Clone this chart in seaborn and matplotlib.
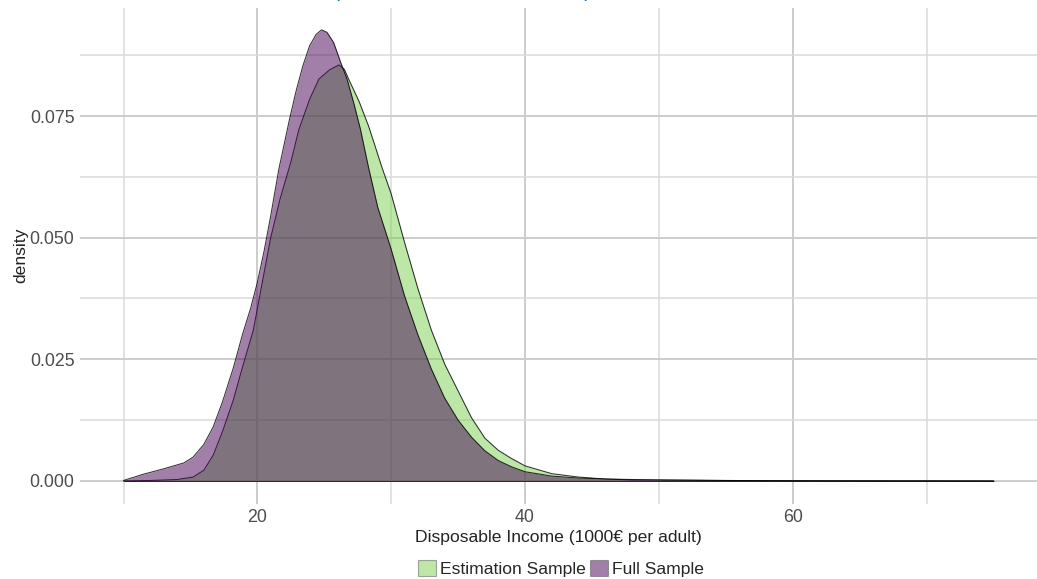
import numpy as np
import pandas as pd
import matplotlib.pyplot as plt
import seaborn as sns
from matplotlib.patches import Patch
from matplotlib.ticker import MultipleLocator

# Density curves (x in 1000 EUR per adult)
full_x = [10, 11.5, 13, 14.5, 15.2, 16, 16.7, 17.4, 18.2, 18.9, 19.5, 20, 20.5,
          21, 21.6, 22.4, 22.9, 23.4, 23.9, 24.4, 24.8, 25.2, 25.7, 26.2, 26.7,
          27.2, 27.7, 28.3, 29, 30, 31, 32, 33, 34, 35, 36, 37, 38, 39, 40, 42,
          44, 46, 48, 50, 55, 60, 65, 70, 75]
full_y = [0.0001, 0.0014, 0.0025, 0.0037, 0.0049, 0.0075, 0.0111, 0.0163, 0.0232,
          0.0302, 0.0355, 0.0408, 0.0472, 0.0545, 0.0640, 0.0743, 0.0802, 0.0853,
          0.0894, 0.0918, 0.0927, 0.0922, 0.0901, 0.0862, 0.0826, 0.0777, 0.0723,
          0.0645, 0.0562, 0.0476, 0.0380, 0.0300, 0.0230, 0.0170, 0.0125, 0.0090,
          0.0062, 0.0042, 0.0029, 0.0019, 0.0010, 0.0006, 0.0004, 0.0003, 0.0002,
          0.0001, 0.00005, 0.00003, 0.00002, 0.0]

est_x = [10, 12, 14, 15.2, 16, 16.7, 17.4, 18.2, 18.9, 19.7, 20.45, 21, 21.7, 22.5,
         23.1, 23.9, 24.6, 25.4, 26.1, 26.5, 26.85, 27.6, 28.3, 28.8, 29.3, 30, 31,
         32, 33, 34, 35, 36, 37, 38, 39, 40, 42, 44, 46, 48, 50, 55, 60, 65, 70, 75]
est_y = [0.0, 0.0001, 0.0003, 0.0008, 0.0022, 0.0053, 0.0102, 0.0166, 0.0235,
         0.0310, 0.0420, 0.0500, 0.0580, 0.0655, 0.0722, 0.0784, 0.0826, 0.0845,
         0.0855, 0.0846, 0.0824, 0.0780, 0.0730, 0.0688, 0.0645, 0.0590, 0.0490,
         0.0395, 0.0310, 0.0240, 0.0185, 0.0130, 0.0088, 0.0063, 0.0046, 0.0031,
         0.0015, 0.0008, 0.0004, 0.0002, 0.0002, 0.0001, 0.00005, 0.00003, 0.00002,
         0.0]

labels = ["Estimation Sample", "Full Sample"]
colors = {"Estimation Sample": "#7AD151", "Full Sample": "#440154"}

df = pd.concat([
    pd.DataFrame({"income": est_x, "density": est_y, "sample": labels[0]}),
    pd.DataFrame({"income": full_x, "density": full_y, "sample": labels[1]}),
])

sns.set_theme(style="whitegrid")
plt.rcParams['font.family'] = ['Liberation Sans', 'DejaVu Sans']

fig = plt.figure(figsize=(10.37, 5.79), dpi=100)
ax = fig.add_axes([80 / 1037, 75.5 / 579, 957 / 1037, 496 / 579])

# estimation sample first, full sample on top (fill then outline each)
z = 1
for name in labels:
    d = df[df["sample"] == name]
    ax.fill_between(d["income"], d["density"], color=colors[name], alpha=0.5,
                    lw=0, zorder=z)
    sns.lineplot(data=d, x="income", y="density", color="black", lw=0.75,
                 alpha=0.8, ax=ax, zorder=z + 1, legend=False)
    ax.hlines(0, d["income"].min(), d["income"].max(), color="black", lw=0.7,
              alpha=0.5, zorder=z + 1)
    z += 2

ax.set_xlim(6.75, 78.25)
ax.set_ylim(-0.00463, 0.0973)
ax.xaxis.set_major_locator(MultipleLocator(20))
ax.xaxis.set_minor_locator(MultipleLocator(10))
ax.yaxis.set_major_locator(MultipleLocator(0.025))
ax.yaxis.set_minor_locator(MultipleLocator(0.0125))
ax.yaxis.set_major_formatter(plt.FormatStrFormatter('%.3f'))

ax.grid(which="major", color="#cccccc", lw=1.4)
ax.grid(which="minor", color="#dadada", lw=1.1)
ax.set_axisbelow(True)
for s in ax.spines.values():
    s.set_visible(False)
ax.tick_params(which="both", length=0, labelsize=12.8, colors="#4d4d4d", pad=4)

ax.set_xlabel("Disposable Income (1000€ per adult)", fontsize=12.6, color="#222222",
              labelpad=3)
ax.set_ylabel("density", fontsize=12.6, color="#222222", labelpad=1)

handles = [Patch(facecolor=colors[n], alpha=0.5, edgecolor="#555555", lw=0.8)
           for n in labels]
fig.legend(handles, labels, loc="lower center", bbox_to_anchor=(0.541, -0.024),
           ncol=2, frameon=False, fontsize=12.6, handlelength=1.0, handleheight=1.0,
           handletextpad=0.25, columnspacing=0.25)

# title sits above the visible area; only descenders peek in
fig.text(317 / 1037, 1.003, "Disposable Income: Estimation vs. Full Sample",
         color="#0077c8", fontsize=9.2, fontweight="bold", ha="left",
         va="baseline")

fig.savefig("out.png", dpi=100)
